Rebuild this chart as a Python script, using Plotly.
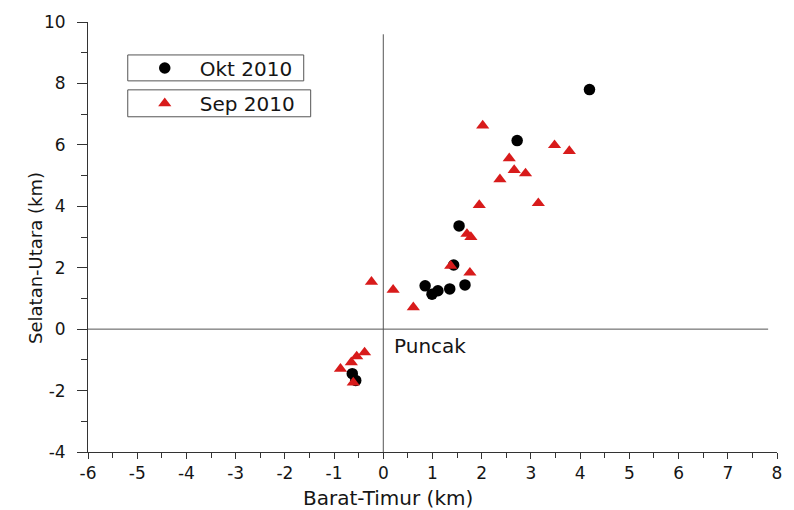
import plotly.graph_objects as go

# Okt 2010 event positions (km from the summit)
okt_x = [4.19, 2.72, 1.54, 1.43, 0.85, 0.99, 1.11, 1.35, 1.66, -0.63, -0.56]
okt_y = [7.80, 6.14, 3.36, 2.09, 1.41, 1.14, 1.25, 1.31, 1.44, -1.45, -1.67]

# Sep 2010 event positions (km from the summit)
sep_x = [2.02, 3.48, 3.78, 2.56, 2.66, 2.89, 2.37, 1.95, 3.15, 1.70, 1.78,
         1.76, 1.37, -0.24, 0.20, 0.61, -0.38, -0.54, -0.65, -0.87, -0.61]
sep_y = [6.63, 5.99, 5.80, 5.56, 5.18, 5.07, 4.88, 4.04, 4.10, 3.10, 3.00,
         1.84, 2.06, 1.54, 1.28, 0.71, -0.76, -0.89, -1.08, -1.29, -1.74]

x_ticks = list(range(-6, 9))
x_tick_labels = [str(v) for v in x_ticks]
y_ticks = list(range(-4, 11, 2))
y_tick_labels = [str(v) for v in y_ticks]

x_range = [-6, 8]
y_range = [-4, 10]
h_line_end = 7.82   # right end of the east-west reference line
v_line_top = 9.6    # top end of the north-south reference line

FONT = "DejaVu Sans, sans-serif"
AXIS_COLOR = "#333333"
TEXT_COLOR = "#151515"

fig = go.Figure()

fig.add_trace(go.Scatter(
    x=okt_x, y=okt_y, mode="markers", name="Okt 2010",
    marker=dict(symbol="circle", size=11.5, color="black", line=dict(width=0)),
    legend="legend",
))
fig.add_trace(go.Scatter(
    x=sep_x, y=sep_y, mode="markers", name="Sep 2010",
    marker=dict(symbol="triangle-up", size=11.5, color="#d81b1b",
                line=dict(width=0)),
    legend="legend2",
))

# Reference cross through the summit
fig.add_shape(type="line", xref="x", yref="y",
              x0=x_range[0], x1=h_line_end, y0=0, y1=0,
              line=dict(color="#555555", width=1), layer="below")
fig.add_shape(type="line", xref="x", yref="y",
              x0=0, x1=0, y0=y_range[0], y1=v_line_top,
              line=dict(color="#555555", width=1), layer="below")

# Frames around the two legend entries
fig.add_shape(type="rect", xref="paper", yref="paper",
              x0=0.0577, x1=0.3131, y0=0.8631, y1=0.9234,
              line=dict(color="#555555", width=1), fillcolor="rgba(0,0,0,0)")
fig.add_shape(type="rect", xref="paper", yref="paper",
              x0=0.0577, x1=0.3232, y0=0.7796, y1=0.8422,
              line=dict(color="#555555", width=1), fillcolor="rgba(0,0,0,0)")

fig.add_annotation(x=0.18, y=-0.55, xref="x", yref="y", text="Puncak",
                   showarrow=False, xanchor="left", yanchor="middle",
                   font=dict(family=FONT, size=20, color=TEXT_COLOR))

# Axis titles
fig.add_annotation(x=0.436, y=-0.107, xref="paper", yref="paper",
                   text="Barat-Timur (km)", showarrow=False,
                   xanchor="center", yanchor="middle",
                   font=dict(family=FONT, size=20, color=TEXT_COLOR))
fig.add_annotation(x=-0.0765, y=0.452, xref="paper", yref="paper",
                   text="Selatan-Utara (km)", showarrow=False, textangle=-90,
                   xanchor="center", yanchor="middle",
                   font=dict(family=FONT, size=18, color=TEXT_COLOR))

axis_common = dict(
    showgrid=False, zeroline=False, showline=True, linecolor=AXIS_COLOR,
    linewidth=1, ticks="outside", tickwidth=1, tickcolor=AXIS_COLOR,
    mirror=False, tickfont=dict(family=FONT, size=17, color=TEXT_COLOR),
    tickmode="array",
)

fig.update_xaxes(
    range=x_range, tickvals=x_ticks, ticktext=x_tick_labels, ticklen=6,
    ticklabelstandoff=0,
    minor=dict(dtick=0.5, tick0=-6, ticks="outside", ticklen=5, tickcolor=AXIS_COLOR),
    **axis_common,
)
fig.update_yaxes(
    range=y_range, tickvals=y_ticks, ticktext=y_tick_labels, ticklen=10,
    ticklabelstandoff=8,
    minor=dict(dtick=1, tick0=-4, ticks="outside", ticklen=6, tickcolor=AXIS_COLOR),
    **axis_common,
)

legend_common = dict(
    bgcolor="rgba(0,0,0,0)", borderwidth=0,
    font=dict(family=FONT, size=20, color=TEXT_COLOR),
    itemwidth=60, xanchor="left", yanchor="middle",
)

fig.update_layout(
    width=794, height=510,
    margin=dict(l=88, r=13, t=21, b=58),
    paper_bgcolor="white", plot_bgcolor="white",
    showlegend=True,
    legend=dict(x=0.0606, y=0.893, **legend_common),
    legend2=dict(x=0.0606, y=0.811, **legend_common),
)

fig.write_html("out.html")
